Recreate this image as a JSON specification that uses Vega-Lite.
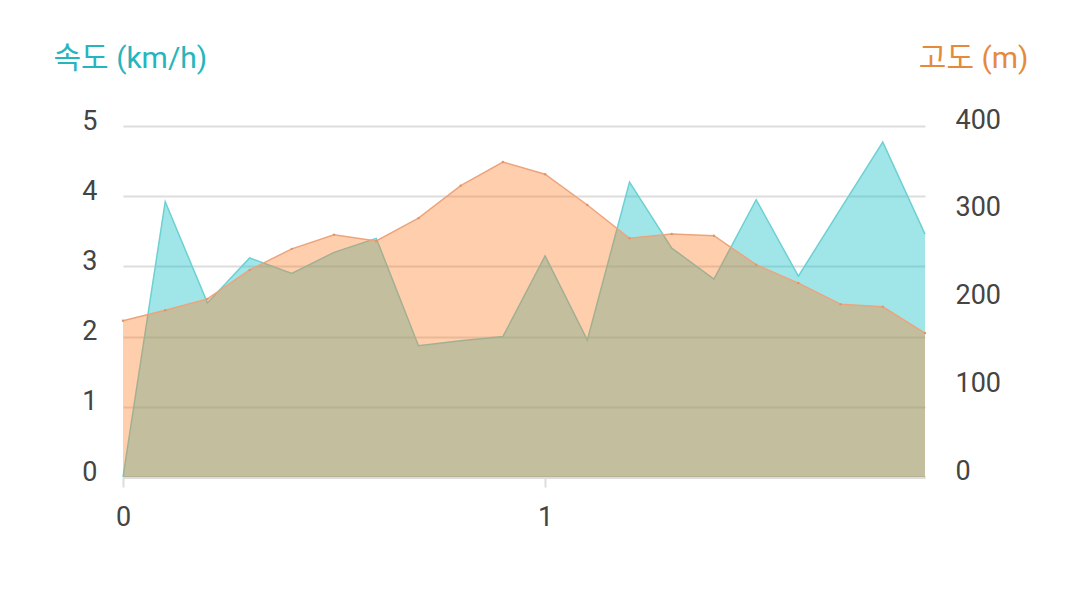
{
  "$schema": "https://vega.github.io/schema/vega-lite/v6.json",
  "width": 802,
  "height": 351,
  "autosize": "none",
  "padding": {"left": 123, "top": 126, "right": 155, "bottom": 117},
  "background": "white",
  "config": {"view": {"stroke": null}, "font": "Roboto"},
  "data": {
    "values": [
      {"x": 0.0, "speed": 0.0, "alt": 178},
      {"x": 0.1, "speed": 3.92, "alt": 190},
      {"x": 0.2, "speed": 2.48, "alt": 203},
      {"x": 0.3, "speed": 3.12, "alt": 236},
      {"x": 0.4, "speed": 2.9, "alt": 260},
      {"x": 0.5, "speed": 3.2, "alt": 276},
      {"x": 0.6, "speed": 3.4, "alt": 269},
      {"x": 0.7, "speed": 1.87, "alt": 295},
      {"x": 0.8, "speed": 1.94, "alt": 332},
      {"x": 0.9, "speed": 2.0, "alt": 359},
      {"x": 1.0, "speed": 3.15, "alt": 345},
      {"x": 1.1, "speed": 1.95, "alt": 310},
      {"x": 1.2, "speed": 4.2, "alt": 272},
      {"x": 1.3, "speed": 3.26, "alt": 277},
      {"x": 1.4, "speed": 2.82, "alt": 275},
      {"x": 1.5, "speed": 3.95, "alt": 242},
      {"x": 1.6, "speed": 2.86, "alt": 221},
      {"x": 1.7, "speed": 3.82, "alt": 197},
      {"x": 1.8, "speed": 4.77, "alt": 194},
      {"x": 1.9, "speed": 3.46, "alt": 164}
    ]
  },
  "encoding": {
    "x": {
      "field": "x",
      "type": "quantitative",
      "scale": {"domain": [0, 1.9], "nice": false, "zero": false},
      "axis": {
        "values": [0, 1],
        "grid": false,
        "title": null,
        "domainColor": "#dddddd",
        "domainWidth": 3,
        "tickColor": "#dddddd",
        "tickWidth": 2,
        "tickSize": 10,
        "labelFontSize": 27,
        "labelColor": "#444444",
        "labelPadding": 17,
        "labelFlush": false
      }
    }
  },
  "layer": [
    {
      "encoding": {
        "y": {
          "field": "speed",
          "type": "quantitative",
          "scale": {"domain": [0, 5], "nice": false},
          "axis": {
            "orient": "left",
            "values": [0, 1, 2, 3, 4, 5],
            "grid": true,
            "gridColor": "#dddddd",
            "gridWidth": 2,
            "domain": false,
            "ticks": false,
            "labelFontSize": 27,
            "labelColor": "#444444",
            "labelPadding": 26,
            "labelOffset": -5,
            "title": "속도 (km/h)",
            "titleColor": "#26b5bd",
            "titleFont": "Roboto, Noto Sans CJK KR",
            "titleFontSize": 30,
            "titleFontWeight": "normal",
            "titleAngle": 0,
            "titleAlign": "left",
            "titleBaseline": "middle",
            "titleX": -70,
            "titleY": -68
          }
        }
      },
      "layer": [
        {"mark": {"type": "area", "color": "#1dc3c8", "fillOpacity": 0.42, "opacity": 1}},
        {"mark": {"type": "line", "color": "#6dd0d3", "strokeWidth": 1.5}}
      ]
    },
    {
      "encoding": {
        "y": {
          "field": "alt",
          "type": "quantitative",
          "scale": {"domain": [0, 400], "nice": false},
          "axis": {
            "orient": "right",
            "values": [0, 100, 200, 300, 400],
            "grid": false,
            "domain": false,
            "ticks": false,
            "labelFontSize": 27,
            "labelColor": "#444444",
            "labelPadding": 30,
            "labelOffset": -6,
            "labelAlign": "left",
            "title": "고도 (m)",
            "titleColor": "#e58a3c",
            "titleFont": "Roboto, Noto Sans CJK KR",
            "titleFontSize": 30,
            "titleFontWeight": "normal",
            "titleAngle": 0,
            "titleAlign": "right",
            "titleBaseline": "middle",
            "titleX": 103,
            "titleY": -68
          }
        }
      },
      "layer": [
        {"mark": {"type": "area", "color": "#ff7a20", "fillOpacity": 0.37, "opacity": 1}},
        {"mark": {"type": "line", "color": "#eca47c", "strokeWidth": 1.5}},
        {"mark": {"type": "point", "filled": true, "color": "#e0956a", "size": 6, "opacity": 1}}
      ]
    }
  ],
  "resolve": {"scale": {"y": "independent"}}
}
